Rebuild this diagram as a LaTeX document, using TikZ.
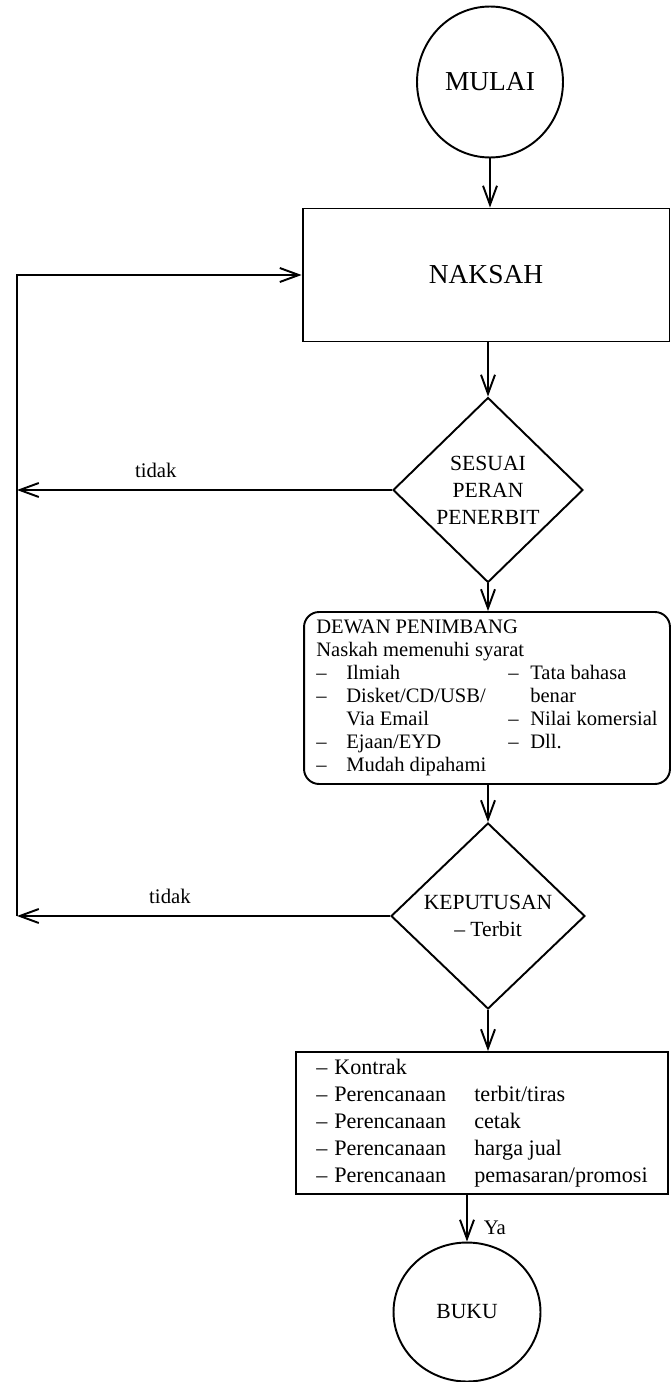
\documentclass[tikz,border=0pt]{standalone}
\usepackage{fontspec}
\setmainfont{Liberation Serif}
\usetikzlibrary{shapes,arrows.meta,positioning}

\begin{document}
\begin{tikzpicture}[x=0.02cm, y=-0.02cm, line width=1.1pt,
  >={Straight Barb[length=0.38cm,width=0.28cm]},
  terminal/.style={draw, ellipse, inner sep=0pt, font=\fontsize{12.3}{15}\selectfont},
  process/.style={draw, rectangle, inner sep=0pt},
  decision/.style={draw, diamond, inner sep=0pt, align=center,
    font=\fontsize{12.3}{15.4}\selectfont},
  syarat/.style={draw, rectangle, rounded corners=0.3cm, inner sep=0pt,
    minimum width=7.32cm, minimum height=3.44cm,
    font=\fontsize{11.7}{13.1}\selectfont},
  lbl/.style={font=\fontsize{11.8}{14}\selectfont}]

% Fix the page size
\useasboundingbox (0,0) rectangle (670,1382);

% Draw the flow nodes
\node[terminal, minimum width=2.92cm, minimum height=3.02cm,
  font=\fontsize{15.6}{18}\selectfont] (mulai) at (490,82) {MULAI};
\node[process, minimum width=7.34cm, minimum height=2.66cm,
  font=\fontsize{15.6}{18}\selectfont] (naksah) at (486,275) {NAKSAH};
\node[decision, minimum width=3.8cm, minimum height=3.7cm] (sesuai) at (488,490)
  {SESUAI\\PERAN\\PENERBIT};
\node[syarat] (dewan) at (487,698) {%
  \begin{tabular}{@{}p{0.6cm}@{}p{3.24cm}@{}p{0.44cm}@{}l@{}}
  \multicolumn{4}{@{}l@{}}{DEWAN PENIMBANG}\\
  \multicolumn{4}{@{}l@{}}{Naskah memenuhi syarat}\\
  -- & Ilmiah & -- & Tata bahasa\\
  -- & Disket/CD/USB/ & & benar\\
     & Via Email & -- & Nilai komersial\\
  -- & Ejaan/EYD & -- & Dll.\\
  -- & Mudah dipahami & & \\
  \end{tabular}};
\node[decision, minimum width=3.88cm, minimum height=3.72cm] (keputusan) at (488,916)
  {KEPUTUSAN\\-- Terbit};
\node[process, minimum width=7.44cm, minimum height=2.84cm,
  font=\fontsize{12.6}{15.4}\selectfont] (rencana) at (482,1123) {%
  \begin{tabular}{@{}p{0.36cm}@{}p{2.8cm}@{}l@{}}
  -- & Kontrak & \\
  -- & Perencanaan & terbit/tiras\\
  -- & Perencanaan & cetak\\
  -- & Perencanaan & harga jual\\
  -- & Perencanaan & pemasaran/promosi\\
  \end{tabular}};
\node[terminal, minimum width=2.94cm, minimum height=2.78cm] (buku) at (467,1312) {BUKU};

% Loop line on the left
\coordinate (loop) at (17,0);

% Draw the connectors
\draw[->] (mulai.south) -- (mulai.south |- naksah.north);
\draw[->] (naksah.south -| sesuai.north) -- (sesuai.north);
\draw[->] (sesuai.south) -- (sesuai.south |- dewan.north);
\draw[->] (dewan.south -| keputusan.north) -- (keputusan.north);
\draw[->] (keputusan.south) -- (keputusan.south |- rencana.north);
\draw[->] (buku.north |- rencana.south) -- (buku.north)
  node[lbl, right=0.2cm, pos=0.7] {Ya};

% Label the tidak branches
\draw[->] (sesuai.west) -- (sesuai.west -| loop)
  node[lbl, above=0.1cm, pos=0.63] {tidak};
\draw[->] (keputusan.west) -- (keputusan.west -| loop)
  node[lbl, above=0.1cm, pos=0.59] {tidak};
\draw[->] (keputusan.west -| loop) |- (naksah.west);

\end{tikzpicture}
\end{document}
